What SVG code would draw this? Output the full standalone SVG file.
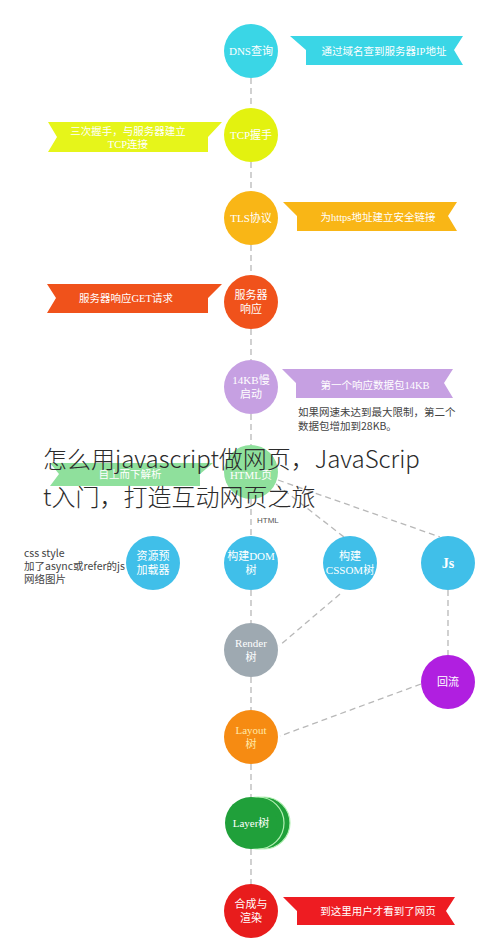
<svg xmlns="http://www.w3.org/2000/svg" width="490" height="940" viewBox="0 0 490 940">
<style>
.bg{fill:#ffffff}
.lnk{stroke:#b8b8b8;stroke-width:1.3;stroke-dasharray:6 4;fill:none}
.ct{font-family:"Liberation Serif","Noto Sans CJK SC",serif;font-size:11px;fill:#ffffff;text-anchor:middle}
.bt{font-family:"Liberation Serif","Noto Sans CJK SC",serif;font-size:10.5px;fill:#ffffff;text-anchor:middle}
.note{font-family:"Noto Sans CJK SC",sans-serif;font-size:10.5px;fill:#444444}
.small{font-family:"Liberation Sans","Noto Sans CJK SC",sans-serif;font-size:8px;fill:#555555}
.title{font-family:"Noto Sans CJK SC",sans-serif;font-weight:300;font-size:24px;fill:#2b2b2b}
</style>
<rect class="bg" x="0" y="0" width="490" height="940"/>

<g id="connectors">
<line class="lnk" x1="251" y1="78" x2="251" y2="108"/>
<line class="lnk" x1="251" y1="162" x2="251" y2="191"/>
<line class="lnk" x1="251" y1="245" x2="251" y2="275"/>
<line class="lnk" x1="251" y1="329" x2="251" y2="360"/>
<line class="lnk" x1="251" y1="414" x2="251" y2="445"/>
<line class="lnk" x1="251" y1="499" x2="251" y2="536"/>
<line class="lnk" x1="276" y1="484" x2="344" y2="537"/>
<line class="lnk" x1="278" y1="480" x2="440" y2="537"/>
<line class="lnk" x1="251" y1="590" x2="251" y2="623"/>
<line class="lnk" x1="340" y1="594" x2="279" y2="646"/>
<line class="lnk" x1="448" y1="590" x2="448" y2="655"/>
<line class="lnk" x1="251" y1="677" x2="251" y2="710"/>
<line class="lnk" x1="421" y1="684" x2="280" y2="736"/>
<line class="lnk" x1="251" y1="764" x2="251" y2="797"/>
<line class="lnk" x1="251" y1="849" x2="251" y2="884"/>
<text class="small" x="257" y="523">HTML</text>
</g>

<g id="dns">
<circle cx="251" cy="51" r="27" fill="#3ad6e6"/>
<text class="ct" x="251" y="55">DNS查询</text>
<polygon points="290,36 463,36 454,50 463,65 306,65 306,50" fill="#3ad6e6"/>
<text class="bt" x="384" y="55">通过域名查到服务器IP地址</text>
</g>

<g id="tcp">
<circle cx="251" cy="135" r="27" fill="#e3f20f"/>
<text class="ct" x="251" y="139">TCP握手</text>
<polygon points="222,122 48,122 57,137 48,152 208,152 208,137" fill="#e6f51a"/>
<text class="bt" x="128" y="135">三次握手，与服务器建立</text>
<text class="bt" x="128" y="148">TCP连接</text>
</g>

<g id="tls">
<circle cx="251" cy="218" r="27" fill="#f9b616"/>
<text class="ct" x="251" y="222">TLS协议</text>
<polygon points="283,202 457,202 448,216 457,231 297,231 297,216" fill="#f9b616"/>
<text class="bt" x="378" y="221">为https地址建立安全链接</text>
</g>

<g id="server">
<circle cx="251" cy="302" r="27" fill="#f0521b"/>
<text class="ct" x="251" y="299">服务器</text>
<text class="ct" x="251" y="313">响应</text>
<polygon points="222,284 47,284 56,298 47,313 208,313 208,298" fill="#f0521b"/>
<text class="bt" x="126" y="302">服务器响应GET请求</text>
</g>

<g id="slowstart">
<circle cx="251" cy="387" r="27" fill="#c6a0e2"/>
<text class="ct" x="251" y="384">14KB慢</text>
<text class="ct" x="251" y="398">启动</text>
<polygon points="282,369 453,369 444,383 453,398 296,398 296,383" fill="#c6a0e2"/>
<text class="bt" x="375" y="389">第一个响应数据包14KB</text>
<text class="note" x="298" y="416">如果网速未达到最大限制，第二个</text>
<text class="note" x="298" y="430">数据包增加到28KB。</text>
</g>

<g id="html">
<polygon points="213,463 50,463 59,474 50,486 200,486 200,474" fill="#8fe09c"/>
<text class="bt" x="130" y="478">自上而下解析</text>
<circle cx="251" cy="472" r="27" fill="#8fe09c"/>
<text class="ct" x="251" y="479">HTML页</text>
</g>

<g id="preload">
<circle cx="153" cy="563" r="27" fill="#40bfe9"/>
<text class="ct" x="153" y="560">资源预</text>
<text class="ct" x="153" y="574">加载器</text>
<text class="note" x="24" y="557">css style</text>
<text class="note" x="24" y="570">加了async或refer的js</text>
<text class="note" x="24" y="583">网络图片</text>
</g>

<g id="dom">
<circle cx="251" cy="563" r="27" fill="#40bfe9"/>
<text class="ct" x="251" y="560">构建DOM</text>
<text class="ct" x="251" y="574">树</text>
</g>

<g id="cssom">
<circle cx="350" cy="563" r="27" fill="#40bfe9"/>
<text class="ct" x="350" y="560">构建</text>
<text class="ct" x="350" y="574">CSSOM树</text>
</g>

<g id="js">
<circle cx="448" cy="563" r="27" fill="#40bfe9"/>
<text class="ct" x="448" y="568" style="font-size:14px;font-weight:bold">Js</text>
</g>

<g id="render">
<circle cx="251" cy="650" r="27" fill="#9ea9b1"/>
<text class="ct" x="251" y="647">Render</text>
<text class="ct" x="251" y="661">树</text>
</g>

<g id="reflow">
<circle cx="448" cy="682" r="27" fill="#b01fe0"/>
<text class="ct" x="448" y="686">回流</text>
</g>

<g id="layout">
<circle cx="251" cy="737" r="27" fill="#f68b12"/>
<text class="ct" x="251" y="734" style="fill:#ffe9a8">Layout</text>
<text class="ct" x="251" y="748" style="fill:#ffe9a8">树</text>
</g>

<g id="layer">
<circle cx="264" cy="823" r="26" fill="#20a03a" stroke="#b4f0b4" stroke-width="1.2"/>
<circle cx="258" cy="823" r="26" fill="#20a03a" stroke="#b4f0b4" stroke-width="1.2"/>
<circle cx="251" cy="823" r="26" fill="#20a03a"/>
<text class="ct" x="251" y="827">Layer树</text>
</g>

<g id="composite">
<circle cx="251" cy="911" r="27" fill="#e81c1c"/>
<text class="ct" x="251" y="908">合成与</text>
<text class="ct" x="251" y="922">渲染</text>
<polygon points="283,897 455,897 446,911 455,925 297,925 297,911" fill="#ee1c22"/>
<text class="bt" x="378" y="915">到这里用户才看到了网页</text>
</g>

<g id="title">
<text class="title" x="43" y="468">怎么用javascript做网页，JavaScrip</text>
<text class="title" x="43" y="506">t入门，打造互动网页之旅</text>
</g>
</svg>
